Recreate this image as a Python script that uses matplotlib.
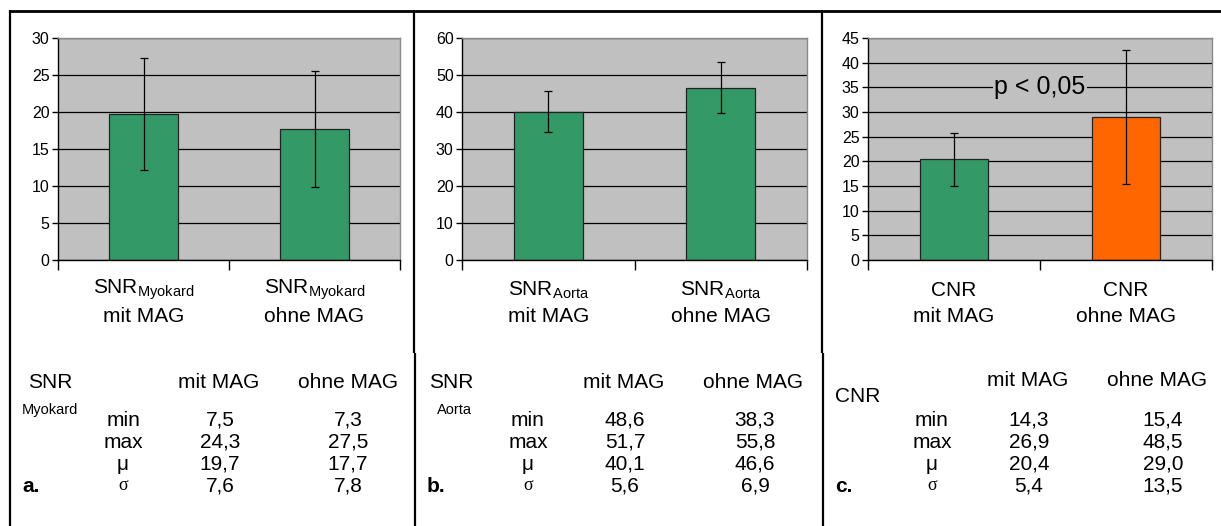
import matplotlib
matplotlib.use("Agg")
import matplotlib.pyplot as plt
from matplotlib.lines import Line2D
from matplotlib import transforms

plt.rcParams['font.family'] = ['Liberation Sans', 'DejaVu Sans']
plt.rcParams['mathtext.fontset'] = 'custom'
plt.rcParams['mathtext.rm'] = 'Liberation Sans'
plt.rcParams['mathtext.it'] = 'Liberation Sans'

# ---------------- data ----------------
groups = ["mit MAG", "ohne MAG"]
snr_myo_mean = [19.7, 17.7]
snr_myo_sd = [7.6, 7.8]
snr_aorta_mean = [40.1, 46.6]
snr_aorta_sd = [5.6, 6.9]
cnr_mean = [20.4, 29.0]
cnr_sd = [5.4, 13.5]

table_rows = ["min", "max", "\u03bc", "\u03c3"]
tab_myo_mit = ["7,5", "24,3", "19,7", "7,6"]
tab_myo_ohne = ["7,3", "27,5", "17,7", "7,8"]
tab_aorta_mit = ["48,6", "51,7", "40,1", "5,6"]
tab_aorta_ohne = ["38,3", "55,8", "46,6", "6,9"]
tab_cnr_mit = ["14,3", "26,9", "20,4", "5,4"]
tab_cnr_ohne = ["15,4", "48,5", "29,0", "13,5"]

W, H = 1221, 526
fig = plt.figure(figsize=(W / 100, H / 100), dpi=100)
fig.patch.set_facecolor('white')


def fx(x):
    return x / W


def fy(y):
    return 1 - y / H


def ftext(x, y, s, **kw):
    fig.text(fx(x), fy(y), s, va='center', **kw)


GREEN = '#339966'
ORANGE = '#FF6600'
FS = 15


def make_panel(left, right, ymax, step, means, sds, colors, lab1):
    top, bottom = 38, 260
    ax = fig.add_axes([fx(left), fy(bottom), fx(right - left), (bottom - top) / H])
    ax.set_facecolor('#C0C0C0')
    ax.set_axisbelow(True)
    ax.yaxis.grid(True, color='black', lw=0.9)
    ax.bar([0, 1], means, width=0.4, color=colors, edgecolor='#222222', lw=0.9, zorder=2)
    ax.errorbar([0, 1], means, yerr=sds, fmt='none', ecolor='black', elinewidth=0.9,
                capsize=3, capthick=0.9, zorder=3)
    ax.set_xlim(-0.5, 1.5)
    ax.set_ylim(0, ymax)
    ax.set_yticks(range(0, ymax + 1, step))
    ax.set_xticks([-0.5, 0.5, 1.5])
    ax.set_xticklabels([])
    ax.tick_params(axis='x', length=7, width=1, direction='out')
    ax.tick_params(axis='y', length=4, width=1, direction='out', labelsize=11.5, pad=2)
    for s in ['top', 'right']:
        ax.spines[s].set_color('#8a8a8a')
        ax.spines[s].set_linewidth(1)
    for s in ['left', 'bottom']:
        ax.spines[s].set_color('black')
        ax.spines[s].set_linewidth(1)
    trans = transforms.blended_transform_factory(ax.transData, fig.transFigure)
    for i, g in enumerate(groups):
        ax.text(i, fy(290), lab1, transform=trans, ha='center', va='center', fontsize=FS)
        ax.text(i, fy(316), g, transform=trans, ha='center', va='center', fontsize=FS)
    return ax


make_panel(58, 400, 30, 5, snr_myo_mean, snr_myo_sd, [GREEN, GREEN],
           r"SNR$_{\mathrm{Myokard}}$")
make_panel(462, 807, 60, 10, snr_aorta_mean, snr_aorta_sd, [GREEN, GREEN],
           r"SNR$_{\mathrm{Aorta}}$")
axc = make_panel(868, 1212, 45, 5, cnr_mean, cnr_sd, [GREEN, ORANGE], "CNR")
axc.text(0.5, 35, "p < 0,05", ha='center', va='center', fontsize=18, zorder=4,
         bbox=dict(facecolor='#C0C0C0', edgecolor='none', pad=1))

# ---------------- tables ----------------
row_y = [420, 442, 464, 486]


def table(dx, title_x, title_y, title, sub, sub_x, mit_vals, ohne_vals, letter, letter_x,
          head_y, ohne_x=348):
    ftext(title_x, title_y, title, ha='left', fontsize=FS)
    if sub:
        ftext(sub_x, 410, sub, ha='left', fontsize=10.5)
    ftext(219 + dx, head_y, "mit MAG", ha='center', fontsize=FS)
    ftext(348 + dx, head_y, "ohne MAG", ha='center', fontsize=FS)
    for i, r in enumerate(table_rows):
        y = row_y[i]
        if r == "\u03c3":
            ftext(123 + dx, y, r, ha='center', fontsize=FS - 2,
                  family=['Liberation Serif', 'DejaVu Serif'])
        else:
            ftext(123 + dx, y, r, ha='center', fontsize=FS)
        ftext(220 + dx, y, mit_vals[i], ha='center', fontsize=FS)
        ftext(ohne_x + dx, y, ohne_vals[i], ha='center', fontsize=FS)
    ftext(letter_x, row_y[3], letter, ha='left', fontsize=FS, fontweight='bold')


table(0, 28, 382, "SNR", "Myokard", 22, tab_myo_mit, tab_myo_ohne, "a.", 22, 382)
table(405, 429, 382, "SNR", "Aorta", 437, tab_aorta_mit, tab_aorta_ohne, "b.", 427, 382,
      ohne_x=350)
table(809, 835, 396, "CNR", None, 0, tab_cnr_mit, tab_cnr_ohne, "c.", 835, 381, ohne_x=354)

# ---------------- frame lines ----------------
def fline(x0, y0, x1, y1, lw=1.6):
    fig.add_artist(Line2D([fx(x0), fx(x1)], [fy(y0), fy(y1)], color='black', lw=lw,
                          solid_capstyle='butt'))


fline(9, 11, 1221, 11, lw=2)
fline(10, 10, 10, 526)
fline(413.5, 10, 413.5, 353)
fline(415, 353, 415, 526)
fline(822, 10, 822, 353)
fline(823, 353, 823, 526)

fig.savefig("out.png", dpi=100, facecolor='white')
